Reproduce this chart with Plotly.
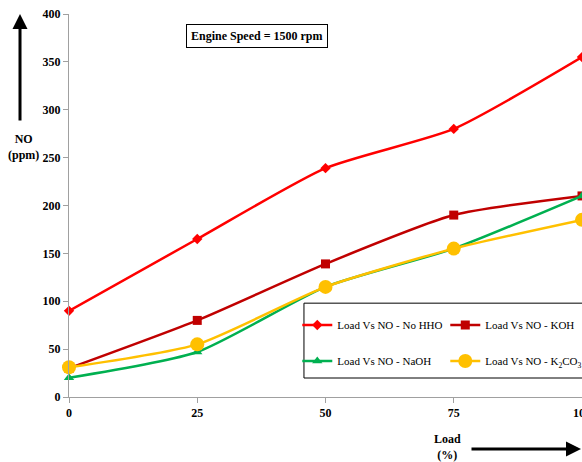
import plotly.graph_objects as go

load = [0, 25, 50, 75, 100]
no_hho = [90, 165, 239, 280, 355]
koh = [30, 80, 139, 190, 210]
naoh = [20, 47, 115, 155, 210]
k2co3 = [31, 55, 115, 155, 185]
names = ["Load Vs NO - No HHO", "Load Vs NO - KOH", "Load Vs NO - NaOH",
         "Load Vs NO - K<sub>2</sub>CO<sub>3</sub>"]
x_ticks = [0, 25, 50, 75, 100]
y_ticks = [0, 50, 100, 150, 200, 250, 300, 350, 400]

FONT = "Liberation Serif"
fig = go.Figure()
series = [
    (no_hho, "#FF0000", "diamond", 8, "legend"),
    (koh, "#C00000", "square", 9, "legend"),
    (naoh, "#00B050", "triangle-up", 9, "legend2"),
    (k2co3, "#FFC000", "circle", 14, "legend2"),
]
for (vals, col, sym, sz, lg), nm in zip(series, names):
    fig.add_trace(go.Scatter(
        x=load, y=vals, name=nm, mode="lines+markers", legend=lg,
        line=dict(color=col, width=2.5, shape="spline", smoothing=0.6),
        marker=dict(symbol=sym, size=sz, color=col),
        cliponaxis=False,
    ))

leg_common = dict(
    orientation="h", xanchor="left", yanchor="middle",
    borderwidth=0, entrywidth=103, itemwidth=30,
    font=dict(family=FONT, size=11), bgcolor="rgba(0,0,0,0)",
)
fig.update_layout(
    width=582, height=462,
    margin=dict(l=69, r=0, t=14, b=65, autoexpand=False),
    plot_bgcolor="white", paper_bgcolor="white",
    font=dict(family=FONT, color="black", size=12),
    showlegend=True,
    legend=dict(x=0.445, y=0.188, **leg_common),
    legend2=dict(x=0.445, y=0.094, **leg_common),
    xaxis=dict(
        range=[0, 100], tickvals=x_ticks, showgrid=False, zeroline=False,
        automargin=False, ticklabeloverflow="allow",
        showline=True, linecolor="#A0A0A0", ticks="outside", tickcolor="#A0A0A0",
        ticklen=5, tickfont=dict(family=FONT, size=12, weight="bold"),
    ),
    yaxis=dict(
        range=[0, 400], tickvals=y_ticks, showgrid=False, zeroline=False,
        automargin=False, ticklabeloverflow="allow",
        showline=True, linecolor="#A0A0A0", ticks="outside", tickcolor="#A0A0A0",
        ticklen=5, tickfont=dict(family=FONT, size=12, weight="bold"),
    ),
)

# legend frame
fig.add_shape(type="rect", xref="paper", yref="paper",
              x0=0.458, x1=1.05, y0=0.0496, y1=0.245,
              line=dict(color="black", width=1), fillcolor="white", layer="below")

fig.add_annotation(
    text="Engine Speed = 1500 rpm", xref="paper", yref="paper",
    x=0.366, y=0.943, xanchor="center", yanchor="middle",
    showarrow=False, bordercolor="black", borderwidth=1,
    borderpad=4, font=dict(family=FONT, size=12, weight="bold"), bgcolor="white",
)
fig.add_annotation(
    text="NO<br>(ppm)", xref="paper", yref="paper", x=-0.088, y=0.653,
    xanchor="center", yanchor="middle",
    showarrow=False, font=dict(family=FONT, size=12, weight="bold"),
)
fig.add_annotation(
    text="Load<br>(%)", xref="paper", yref="paper", x=0.737, y=-0.131,
    xanchor="center", yanchor="middle",
    showarrow=False, font=dict(family=FONT, size=12, weight="bold"),
)
fig.add_annotation(
    text="", xref="paper", yref="paper", x=-0.0955, y=1.0,
    ax=0, ay=108, showarrow=True, arrowhead=2, arrowwidth=3, arrowsize=1,
    arrowcolor="black",
)
fig.add_annotation(
    text="", xref="paper", yref="paper", x=1.0, y=-0.136,
    ax=-112, ay=0, showarrow=True, arrowhead=2, arrowwidth=3, arrowsize=1,
    arrowcolor="black",
)

fig.write_html(
    "out.html",
    config={"displayModeBar": False},
    post_script="document.body.style.margin='0';document.body.style.overflow='hidden';",
)
